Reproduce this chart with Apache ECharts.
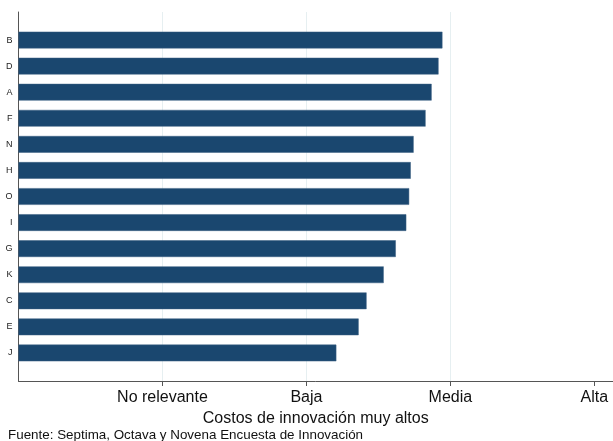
<!DOCTYPE html>
<html>
<head>
<meta charset="utf-8">
<script src="https://cdn.jsdelivr.net/npm/echarts@6/dist/echarts.min.js"></script>
<style>
html,body{margin:0;padding:0;background:#fff;}
#chart{width:613px;height:441px;}
</style>
</head>
<body>
<div id="chart"></div>
<script>
// Data
const categories = ['B','D','A','F','N','H','O','I','G','K','C','E','J'];
const values = [2.945, 2.918, 2.870, 2.828, 2.745, 2.725, 2.714, 2.694, 2.621, 2.537, 2.418, 2.363, 2.208];
const tickValues = [1, 2, 3, 4];
const tickLabels = ['No relevante', 'Baja', 'Media', 'Alta'];
const gridValues = [1, 2, 3];
const xMin = 0;
const xMax = 4.13;
const axisTitle = 'Costos de innovación muy altos';
const sourceNote = 'Fuente: Septima, Octava y Novena Encuesta de Innovación';

const FONT = 'Liberation Sans, Arial, Helvetica, sans-serif';
const chart = echarts.init(document.getElementById('chart'), null, {renderer: 'canvas'});
chart.setOption({
  animation: false,
  backgroundColor: '#ffffff',
  title: {
    text: sourceNote,
    left: 8,
    top: 429,
    padding: 0,
    textStyle: {fontSize: 13.4, fontWeight: 'normal', color: '#111', fontFamily: FONT}
  },
  grid: [
    {left: 18.5, right: 0, top: 12, bottom: 60},
    {left: 18.5, right: 0, top: 27, bottom: 75}
  ],
  xAxis: [
    {
      gridIndex: 0, type: 'value', min: xMin, max: xMax,
      axisLine: {show: true, lineStyle: {color: '#555', width: 1}},
      axisTick: {show: true, customValues: tickValues, length: 5, lineStyle: {color: '#555'}},
      axisLabel: {
        show: true, customValues: tickValues, margin: 9,
        fontSize: 16, color: '#111', fontFamily: FONT,
        formatter: function (v) { const i = tickValues.indexOf(v); return i >= 0 ? tickLabels[i] : ''; }
      },
      splitLine: {show: false},
      name: axisTitle, nameLocation: 'middle', nameGap: 26,
      nameTextStyle: {fontSize: 16, color: '#111', fontFamily: FONT}
    },
    {
      gridIndex: 1, type: 'value', min: xMin, max: xMax, show: false,
      splitLine: {show: false}
    }
  ],
  yAxis: [
    {
      gridIndex: 0, type: 'value', min: 0, max: 1,
      axisLine: {show: true, lineStyle: {color: '#555', width: 1}},
      axisTick: {show: false}, axisLabel: {show: false}, splitLine: {show: false}
    },
    {
      gridIndex: 1, type: 'category', data: categories, inverse: true,
      axisLine: {show: false}, axisTick: {show: false},
      axisLabel: {fontSize: 9, color: '#222', margin: 6, fontFamily: FONT},
      splitLine: {show: false}
    }
  ],
  series: [
    {
      type: 'line', xAxisIndex: 0, yAxisIndex: 0, data: [], z: 0, silent: true,
      markLine: {
        symbol: 'none', silent: true, animation: false, z: 0,
        label: {show: false},
        lineStyle: {color: '#e6eff1', width: 1, type: 'solid'},
        data: gridValues.map(v => ({xAxis: v}))
      }
    },
    {
      type: 'bar', xAxisIndex: 1, yAxisIndex: 1, data: values, z: 10,
      barWidth: '64%',
      itemStyle: {color: '#1a476f', borderColor: '#3b5f80', borderWidth: 0.5}
    }
  ]
});
</script>
</body>
</html>
